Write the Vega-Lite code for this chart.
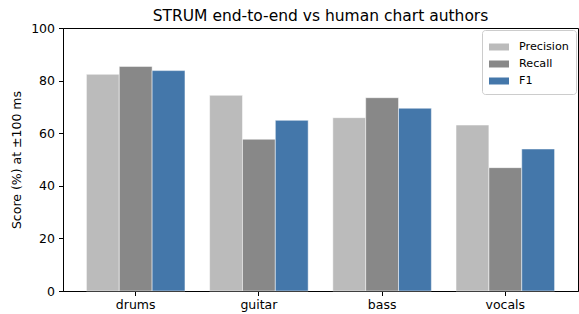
{
  "$schema": "https://vega.github.io/schema/vega-lite/v6.json",
  "width": 515,
  "height": 263,
  "autosize": {"type": "none"},
  "padding": {"left": 63, "top": 28, "right": 1, "bottom": 23},
  "background": "white",
  "title": {
    "text": "STRUM end-to-end vs human chart authors",
    "font": "DejaVu Sans",
    "fontSize": 15.5,
    "fontWeight": "normal",
    "color": "black",
    "offset": -2
  },
  "data": {
    "values": [
      {"source": "drums", "metric": "Precision", "score": 82.4},
      {"source": "drums", "metric": "Recall", "score": 85.4},
      {"source": "drums", "metric": "F1", "score": 83.8},
      {"source": "guitar", "metric": "Precision", "score": 74.4},
      {"source": "guitar", "metric": "Recall", "score": 57.7},
      {"source": "guitar", "metric": "F1", "score": 64.9},
      {"source": "bass", "metric": "Precision", "score": 65.9},
      {"source": "bass", "metric": "Recall", "score": 73.5},
      {"source": "bass", "metric": "F1", "score": 69.5},
      {"source": "vocals", "metric": "Precision", "score": 63.1},
      {"source": "vocals", "metric": "Recall", "score": 46.9},
      {"source": "vocals", "metric": "F1", "score": 54.0}
    ]
  },
  "mark": {"type": "bar", "stroke": "white", "strokeWidth": 0.5},
  "encoding": {
    "x": {
      "field": "source",
      "type": "nominal",
      "sort": ["drums", "guitar", "bass", "vocals"],
      "scale": {"paddingInner": 0.2, "paddingOuter": 0.19},
      "axis": {
        "title": null,
        "labelAngle": 0,
        "labelFont": "DejaVu Sans",
        "labelFontSize": 12.5,
        "labelColor": "black",
        "tickColor": "black",
        "tickSize": 4.5,
        "labelPadding": 3,
        "domainColor": "black",
        "grid": false
      }
    },
    "xOffset": {
      "field": "metric",
      "type": "nominal",
      "sort": ["Precision", "Recall", "F1"],
      "scale": {"paddingInner": 0, "paddingOuter": 0}
    },
    "y": {
      "field": "score",
      "type": "quantitative",
      "scale": {"domain": [0, 100], "nice": false},
      "axis": {
        "title": "Score (%) at ±100 ms",
        "titleFont": "DejaVu Sans",
        "titleFontSize": 12.5,
        "titleFontWeight": "normal",
        "titleColor": "black",
        "titleX": -40,
        "titleY": 131.5,
        "values": [0, 20, 40, 60, 80, 100],
        "labelFont": "DejaVu Sans",
        "labelFontSize": 12.5,
        "labelColor": "black",
        "tickColor": "black",
        "tickSize": 4.5,
        "labelPadding": 4,
        "domainColor": "black",
        "grid": false
      }
    },
    "color": {
      "field": "metric",
      "type": "nominal",
      "scale": {
        "domain": ["Precision", "Recall", "F1"],
        "range": ["#bbbbbb", "#888888", "#4477aa"]
      },
      "legend": {
        "title": null,
        "orient": "top-right",
        "offset": 2,
        "padding": 7,
        "fillColor": "white",
        "strokeColor": "#cccccc",
        "cornerRadius": 3,
        "labelFont": "DejaVu Sans",
        "labelFontSize": 11.2,
        "labelColor": "black",
        "symbolType": "M-1,-0.35H1V0.35H-1Z",
        "symbolSize": 400,
        "symbolStrokeWidth": 0,
        "symbolOpacity": 1,
        "rowPadding": 1,
        "labelOffset": 10
      }
    }
  },
  "config": {
    "view": {"stroke": "black", "strokeWidth": 1},
    "axis": {"domainWidth": 1, "tickWidth": 1}
  }
}
